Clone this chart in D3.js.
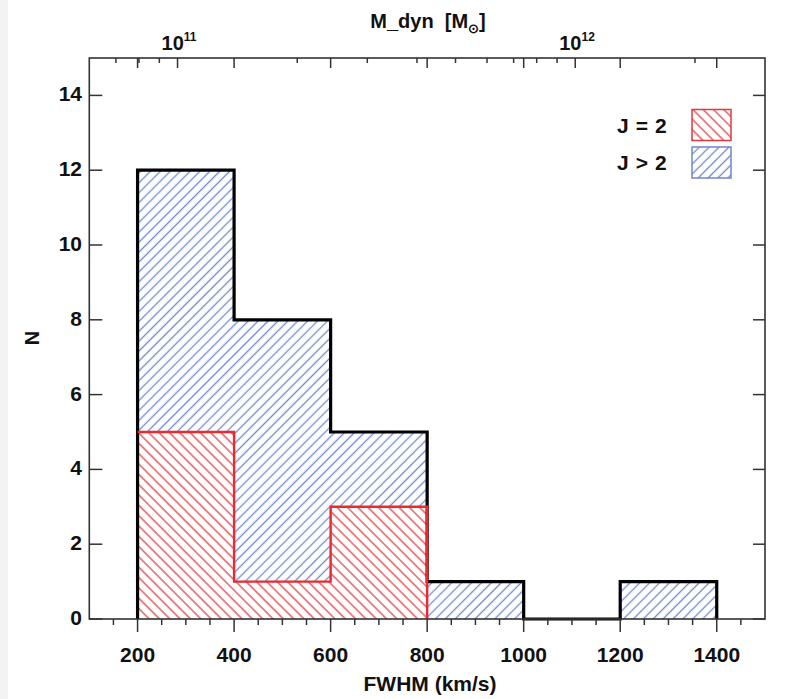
<!DOCTYPE html>
<html lang="en">
<head>
<meta charset="UTF-8">
<script src="https://d3js.org/d3.v7.min.js"></script>
<style>
  body { margin: 0; background: #fff; }
  svg text { font-family: "Liberation Sans", Arial, Helvetica, sans-serif; font-weight: bold; fill: #111; }
  .frame { stroke: #333; stroke-width: 1.6; fill: none; }
  .tick { stroke: #333; stroke-width: 1.5; }
</style>
</head>
<body>
<svg id="chart" width="807" height="699"></svg>
<script>
// histogram data (FWHM bins, km/s)
const binEdges = [200, 400, 600, 800, 1000, 1200, 1400];
const totalCounts = [12, 8, 5, 1, 0, 1];
const j2Counts = [5, 1, 3, 0, 0, 0];

const xTicks = [200, 400, 600, 800, 1000, 1200, 1400];
const yTicks = [0, 2, 4, 6, 8, 10, 12, 14];
const massLabels = [{ m: 1e11, exp: "11" }, { m: 1e12, exp: "12" }];
const legendItems = [{ label: "J = 2", pat: "hatchRed", col: "#e0393e" },
                     { label: "J > 2", pat: "hatchBlue", col: "#6f86cf" }];

const svg = d3.select("#chart");
const pLeft = 89.3, pRight = 765, pTop = 58, pBottom = 619;

// faint strip at the left edge of the scan
svg.append("rect").attr("x", 0).attr("y", 0).attr("width", 8).attr("height", 699).attr("fill", "#f3f3f3");

const x = d3.scaleLinear().domain([100, 1500]).range([pLeft, pRight]);
const y = d3.scaleLinear().domain([0, 15]).range([pBottom, pTop]);
const xm = d3.scaleLog().domain([6e10, 3e12]).range([pLeft, pRight]);

// hatch patterns
const defs = svg.append("defs");
function hatch(id, color, angle, gap) {
  const p = defs.append("pattern").attr("id", id)
    .attr("patternUnits", "userSpaceOnUse")
    .attr("width", gap).attr("height", gap)
    .attr("patternTransform", "rotate(" + angle + ")");
  p.append("rect").attr("width", gap).attr("height", gap).attr("fill", "#fff");
  p.append("line").attr("x1", gap / 2).attr("y1", -1).attr("x2", gap / 2).attr("y2", gap + 1)
    .attr("stroke", color).attr("stroke-width", 1.3);
}
hatch("hatchBlue", "#7189d2", 45, 7);
hatch("hatchRed", "#e2474b", -45, 7.3);

// step points
const pts = counts => binEdges.slice(0, -1).map((e, i) => [e, counts[i]])
  .concat([[binEdges[binEdges.length - 1], counts[counts.length - 1]]]);
const totalPts = pts(totalCounts);
const j2Pts = pts(j2Counts);

// blue: between J=2 and total
const blueArea = d3.area().curve(d3.curveStepAfter)
  .x(d => x(d[0])).y0((d, i) => y(j2Pts[i][1])).y1(d => y(d[1]));
svg.append("path").datum(totalPts).attr("d", blueArea).attr("fill", "url(#hatchBlue)");

const redArea = d3.area().curve(d3.curveStepAfter)
  .x(d => x(d[0])).y0(y(0)).y1(d => y(d[1]));
svg.append("path").datum(j2Pts).attr("d", redArea).attr("fill", "url(#hatchRed)");

// outlines
const step = d3.line().curve(d3.curveStepAfter).x(d => x(d[0])).y(d => y(d[1]));
const outline = [[binEdges[0], 0]].concat(totalPts).concat([[binEdges[binEdges.length - 1], 0]]);
svg.append("path").datum(outline).attr("d", step)
  .attr("fill", "none").attr("stroke", "#000").attr("stroke-width", 3.2);

let lastJ = 0;
j2Counts.forEach((c, i) => { if (c > 0) lastJ = i; });
const redLine = binEdges.slice(0, lastJ + 1).map((e, i) => [e, j2Counts[i]]).concat([[binEdges[lastJ + 1], 0]]);
svg.append("path").datum(redLine).attr("d", step)
  .attr("fill", "none").attr("stroke", "#ea2a2f").attr("stroke-width", 2.4);

// frame
svg.append("rect").attr("class", "frame")
  .attr("x", pLeft).attr("y", pTop).attr("width", pRight - pLeft).attr("height", pBottom - pTop);

// bottom axis: minor every 50, major every 200 (outward)
const xMinor = d3.range(150, 1500, 50);
svg.selectAll("line.xminor").data(xMinor).join("line").attr("class", "tick")
  .attr("x1", d => x(d)).attr("x2", d => x(d))
  .attr("y1", pBottom).attr("y2", d => pBottom + (xTicks.includes(d) ? 13 : 6));
svg.selectAll("text.xlab").data(xTicks).join("text")
  .attr("x", d => x(d)).attr("y", 662).attr("text-anchor", "middle")
  .attr("font-size", 21).text(d => d);
svg.append("text").attr("x", 430).attr("y", 691).attr("text-anchor", "middle")
  .attr("font-size", 21).text("FWHM (km/s)");

// top axis: log mass ticks plus mirrored FWHM majors (inward)
const mTicks = xm.ticks().filter(d => xm(d) > pLeft + 2 && xm(d) < pRight - 2);
svg.selectAll("line.mtick").data(mTicks).join("line").attr("class", "tick")
  .attr("x1", d => xm(d)).attr("x2", d => xm(d))
  .attr("y1", pTop).attr("y2", d => pTop + (Math.abs(Math.log10(d) % 1) < 1e-9 ? 10 : 5));
svg.selectAll("line.xtop").data(xTicks).join("line").attr("class", "tick")
  .attr("x1", d => x(d)).attr("x2", d => x(d)).attr("y1", pTop).attr("y2", pTop + 10);
massLabels.forEach(l => {
  const t = svg.append("text").attr("x", xm(l.m) - 16).attr("y", 50).attr("font-size", 20);
  t.append("tspan").text("10");
  t.append("tspan").attr("font-size", 12).attr("dy", -9).text(l.exp);
});
const mt = svg.append("text").attr("x", 428).attr("y", 28).attr("text-anchor", "middle")
  .attr("font-size", 20).attr("xml:space", "preserve");
mt.append("tspan").text("M_dyn\u00a0\u00a0[M");
mt.append("tspan").attr("font-size", 13).attr("dy", 5).text("\u2299");
mt.append("tspan").attr("dy", -5).text("]");

// left and right axes (inward)
svg.selectAll("line.yl").data(yTicks).join("line").attr("class", "tick")
  .attr("x1", pLeft).attr("x2", pLeft + 13).attr("y1", d => y(d)).attr("y2", d => y(d));
svg.selectAll("line.yr").data(yTicks).join("line").attr("class", "tick")
  .attr("x1", pRight - 12).attr("x2", pRight).attr("y1", d => y(d)).attr("y2", d => y(d));
svg.selectAll("text.ylab").data(yTicks).join("text")
  .attr("x", 82).attr("y", d => y(d) + 6).attr("text-anchor", "end")
  .attr("font-size", 21).text(d => d);
svg.append("text").attr("transform", "translate(39,338) rotate(-90)")
  .attr("text-anchor", "middle").attr("font-size", 20).text("N");

// legend
legendItems.forEach((d, i) => {
  const yy = 109.5 + i * 37.5;
  svg.append("rect").attr("x", 692).attr("y", yy).attr("width", 39).attr("height", 31)
    .attr("fill", "url(#" + d.pat + ")").attr("stroke", d.col).attr("stroke-width", 1.5);
  svg.append("text").attr("x", 617).attr("y", yy + 23).attr("font-size", 21)
    .attr("letter-spacing", 0.6).text(d.label);
});
</script>
</body>
</html>
